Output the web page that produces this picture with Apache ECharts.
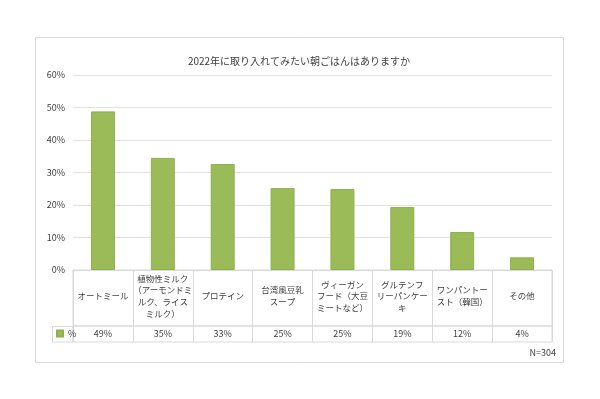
<!DOCTYPE html>
<html>
<head>
<meta charset="utf-8">
<script src="https://cdn.jsdelivr.net/npm/echarts@6/dist/echarts.min.js"></script>
<style>
  html, body { margin: 0; padding: 0; background: #fff; }
  #main { width: 600px; height: 399px; }
</style>
</head>
<body>
<div id="main"></div>
<script>
// 図のデータ
var titleText = "2022年に取り入れてみたい朝ごはんはありますか";
var categories = [
    "オートミール",
    "植物性ミルク\n（アーモンドミ\nルク、ライス\nミルク）",
    "プロテイン",
    "台湾風豆乳\nスープ",
    "ヴィーガン\nフード（大豆\nミートなど）",
    "グルテンフ\nリーパンケー\nキ",
    "ワンパントー\nスト（韓国）",
    "その他"
];
var percentValues = [48.8, 34.5, 32.6, 25.2, 24.9, 19.4, 11.7, 3.9];
var tableLabels = ["49%", "35%", "33%", "25%", "25%", "19%", "12%", "4%"];
var yTicks = [0, 10, 20, 30, 40, 50, 60];
var seriesName = "%";
var noteText = "N=304";

var chart = echarts.init(document.getElementById("main"));

var fontFamily = "'Noto Sans CJK JP', 'Noto Sans', sans-serif";
var lineColor = "#d9d9d9";
var textColor = "#404040";

var option = {
    backgroundColor: "#fff",
    animation: false,
    title: {
        text: titleText,
        left: 294,
        top: 51,
        textAlign: "center",
        textStyle: {
            fontFamily: fontFamily,
            fontSize: 10,
            fontWeight: "normal",
            color: textColor
        }
    },
    legend: {
        data: [seriesName],
        left: 56,
        top: 329,
        padding: 0,
        icon: "rect",
        itemWidth: 6,
        itemHeight: 6,
        textStyle: { fontFamily: fontFamily, fontSize: 9, color: textColor }
    },
    grid: [
        // 棒グラフ
        { left: 73, top: 75, width: 479, height: 195 },
        // 表: 項目行
        { left: 73, top: 270, width: 479, height: 56, show: true, borderColor: lineColor, borderWidth: 1 },
        // 表: 値の行
        { left: 73, top: 326, width: 479, height: 16, show: true, borderColor: lineColor, borderWidth: 1 }
    ],
    xAxis: [
        {
            gridIndex: 0,
            type: "category",
            data: categories,
            axisLine: { lineStyle: { color: lineColor } },
            axisTick: { show: false },
            axisLabel: {
                interval: 0,
                margin: 26,
                verticalAlign: "middle",
                align: "center",
                lineHeight: 11.7,
                fontFamily: fontFamily,
                fontSize: 8.5,
                color: textColor
            }
        },
        {
            gridIndex: 1,
            type: "category",
            data: categories,
            axisLine: { show: false },
            axisTick: { show: false },
            axisLabel: { show: false },
            splitLine: { show: true, interval: 0, lineStyle: { color: lineColor } }
        },
        {
            gridIndex: 2,
            type: "category",
            data: tableLabels,
            position: "top",
            axisLine: { show: false },
            axisTick: { show: false },
            axisLabel: {
                interval: 0,
                margin: -8,
                verticalAlign: "middle",
                fontFamily: fontFamily,
                fontSize: 9,
                color: textColor
            },
            splitLine: { show: true, interval: 0, lineStyle: { color: lineColor } }
        }
    ],
    yAxis: [
        {
            gridIndex: 0,
            type: "value",
            min: yTicks[0],
            max: yTicks[yTicks.length - 1],
            interval: 10,
            axisLine: { show: false },
            axisTick: { show: false },
            axisLabel: {
                formatter: "{value}%",
                margin: 8,
                fontFamily: fontFamily,
                fontSize: 9,
                color: textColor
            },
            splitLine: { lineStyle: { color: "#e2e2e2", width: 1.2 } }
        },
        { gridIndex: 1, type: "value", show: false },
        { gridIndex: 2, type: "value", show: false }
    ],
    series: [
        {
            name: seriesName,
            type: "bar",
            xAxisIndex: 0,
            yAxisIndex: 0,
            barWidth: 24,
            data: percentValues,
            itemStyle: {
                color: "#9bbb59",
                borderColor: "#8db04a",
                borderWidth: 1
            }
        }
    ],
    graphic: [
        {
            type: "rect",
            shape: { x: 35.5, y: 37.5, width: 528, height: 325 },
            style: { fill: "none", stroke: lineColor, lineWidth: 1 },
            z: -1
        },
        {
            type: "rect",
            shape: { x: 52.5, y: 326.5, width: 20.5, height: 15.5 },
            style: { fill: "none", stroke: lineColor, lineWidth: 1 }
        },
        {
            type: "text",
            right: 44,
            top: 348,
            style: {
                text: noteText,
                font: "9px " + fontFamily,
                fill: textColor
            }
        }
    ]
};

chart.setOption(option);

window.addEventListener("resize", function () {
    chart.resize();
});
</script>
</body>
</html>
